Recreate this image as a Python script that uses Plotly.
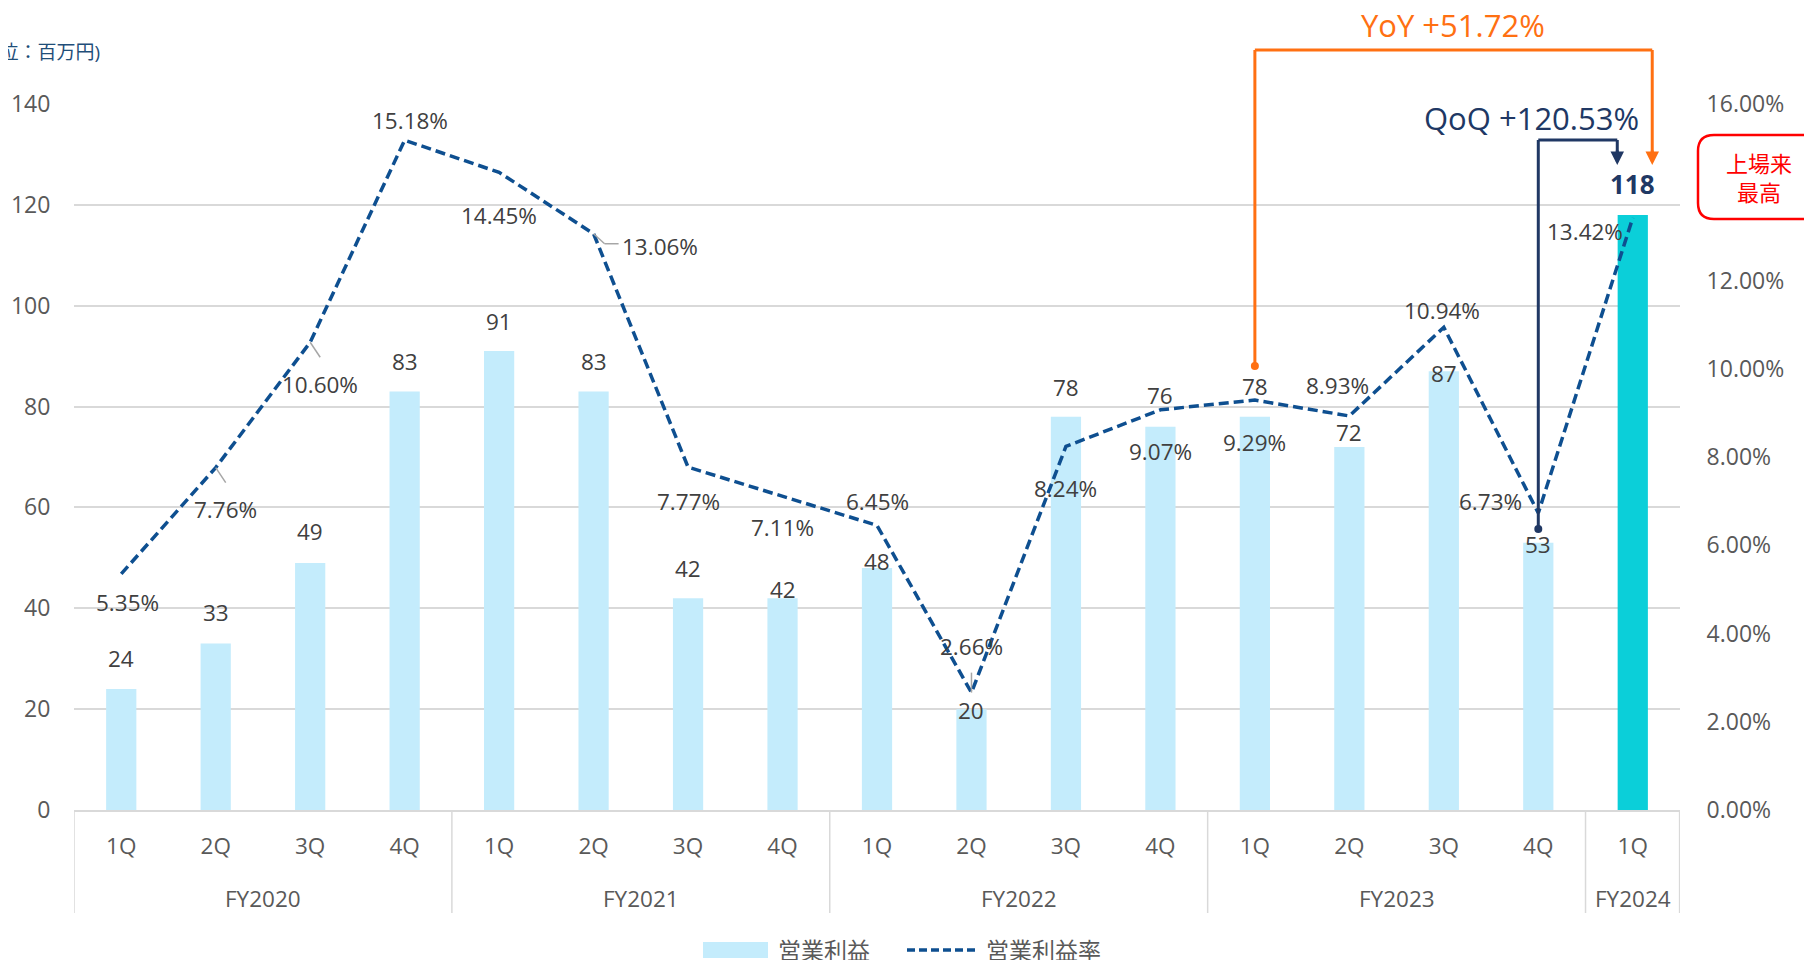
import plotly.graph_objects as go

# ---------------- data ----------------
fiscal_years = ["FY2020"] * 4 + ["FY2021"] * 4 + ["FY2022"] * 4 + ["FY2023"] * 4 + ["FY2024"]
quarters = ["1Q", "2Q", "3Q", "4Q"] * 4 + ["1Q"]
operating_profit = [24, 33, 49, 83, 91, 83, 42, 42, 48, 20, 78, 76, 78, 72, 87, 53, 118]
operating_margin = [5.35, 7.76, 10.60, 15.18, 14.45, 13.06, 7.77, 7.11, 6.45, 2.66,
                    8.24, 9.07, 9.29, 8.93, 10.94, 6.73, 13.42]
left_ticks = [0, 20, 40, 60, 80, 100, 120, 140]
right_ticks = [0, 2, 4, 6, 8, 10, 12, 14, 16]
series_names = ["営業利益", "営業利益率"]
yoy_text = "YoY +51.72%"
qoq_text = "QoQ +120.53%"
unit_text = "(単位：百万円)"
record_text = "上場来<br>最高"

# ---------------- styles ----------------
FONT = "Open Sans, Noto Sans CJK JP, sans-serif"
BAR_LIGHT = "#C4ECFC"
BAR_HIGHLIGHT = "#0BCFD9"
LINE_COLOR = "#0E4F90"
TEXT = "#404040"
AXIS_TEXT = "#595959"
GRID = "#D9D9D9"
NAVY = "#203864"
ORANGE = "#FF7012"

# page geometry of the plot area (page has 8px body margin)
PX0, PX1, PY0, PY1 = 74, 1680, 104, 810
def px(x):
    return (x - PX0) / (PX1 - PX0)
def py(y):
    return (PY1 - y) / (PY1 - PY0)

# label pixel shifts (style only)
bar_label_yshift = [30, 31, 31, 30, 30, 30, 30, 9, 6, -1, 29, 31, 30, 14, -2, -2, 31]
rate_label_shift = [(6, -29), (10, -42), (10, -42), (5, 20), (0, -43), (66, -13), (0, -34),
                    (0, -31), (0, 24), (0, 46), (0, -42), (0, -42), (0, -42), (-12, 30),
                    (-2, 17), (-48, 12), (-48, -14)]

n = len(operating_profit)
categories = [f"{fy} {q}" for fy, q in zip(fiscal_years, quarters)]
bar_colors = [BAR_LIGHT] * (n - 1) + [BAR_HIGHLIGHT]

fig = go.Figure()
fig.add_trace(go.Bar(
    x=categories, y=operating_profit, name=series_names[0],
    marker=dict(color=bar_colors, line=dict(width=0)), width=0.32,
))
fig.add_trace(go.Scatter(
    x=categories, y=operating_margin, name=series_names[1], yaxis="y2",
    mode="lines", line=dict(color=LINE_COLOR, width=3.5, dash="10px,5px"),
))

annotations = []
shapes = []
for i, v in enumerate(operating_profit):
    last = i == n - 1
    annotations.append(dict(
        x=i, y=v, xref="x", yref="y", text=f"<b>{v}</b>" if last else str(v), showarrow=False,
        yshift=bar_label_yshift[i], yanchor="middle", xanchor="center",
        font=dict(family=FONT, size=26 if last else 22.5, color=NAVY if last else TEXT),
    ))
for i, r in enumerate(operating_margin):
    dx, dy = rate_label_shift[i]
    annotations.append(dict(
        x=i, y=r, xref="x", yref="y2", text=f"{r:.2f}%", showarrow=False,
        xshift=dx, yshift=dy, yanchor="middle", xanchor="center",
        font=dict(family=FONT, size=22.5, color=TEXT),
    ))

# leader lines for some margin labels
leaders = {1: [(0, 0, 10, -15)], 2: [(0, 0, 10, -15)], 5: [(0, 0, 11, -10), (11, -10, 25, -10)],
           9: [(0, 0, 0, 20)]}
for i, segs in leaders.items():
    for (a, b, c, d) in segs:
        shapes.append(dict(type="line", xref="x", yref="y2", xsizemode="pixel", ysizemode="pixel",
                           xanchor=i, yanchor=operating_margin[i], x0=a, y0=b, x1=c, y1=d,
                           line=dict(color="#A6A6A6", width=1.5)))

# fiscal-year group labels and dividers under the axis
groups = []
for i, fy in enumerate(fiscal_years):
    if not groups or groups[-1][0] != fy:
        groups.append([fy, i, i])
    else:
        groups[-1][2] = i
for fy, a, b in groups:
    annotations.append(dict(x=(a + b) / 2, y=py(898), xref="x", yref="paper", text=fy, showarrow=False,
                            xanchor="center", yanchor="middle", font=dict(family=FONT, size=22.5, color=AXIS_TEXT)))
    shapes.append(dict(type="line", xref="x", yref="paper", x0=a - 0.5, x1=a - 0.5, y0=0, y1=py(913),
                       line=dict(color=GRID, width=1.5)))
shapes.append(dict(type="line", xref="x", yref="paper", x0=n - 0.5 - 0.004, x1=n - 0.5 - 0.004, y0=0, y1=py(913),
                   line=dict(color=GRID, width=1.5)))

# YoY / QoQ connectors
def connector(x_start, y_start, y_top, x_end, y_tip, color):
    segs = [(x_start, y_start, x_start, y_top), (x_start, y_top, x_end, y_top), (x_end, y_top, x_end, y_tip + 0.015)]
    for (a, b, c, d) in segs:
        shapes.append(dict(type="line", xref="x", yref="paper", x0=a, y0=b, x1=c, y1=d,
                           line=dict(color=color, width=3)))
    shapes.append(dict(type="circle", xref="x", yref="paper", xsizemode="pixel", ysizemode="pixel",
                       xanchor=x_start, yanchor=y_start, x0=-4, x1=4, y0=-4, y1=4,
                       fillcolor=color, line=dict(color=color, width=0)))
    annotations.append(dict(x=x_end, y=y_tip, xref="x", yref="paper", ax=0, ay=-16, axref="pixel", ayref="pixel",
                            text="", showarrow=True, arrowhead=2, arrowsize=0.9, arrowwidth=3,
                            arrowcolor=color))

connector(12, py(366), py(50), 16.206, py(165), ORANGE)
connector(15, py(529), py(140), 15.836, py(165), NAVY)

annotations.append(dict(x=14.1, y=py(25), xref="x", yref="paper", text=yoy_text, showarrow=False,
                        xanchor="center", yanchor="middle", font=dict(family=FONT, size=31, color=ORANGE)))
annotations.append(dict(x=16.09, y=py(118), xref="x", yref="paper", text=qoq_text, showarrow=False,
                        xanchor="right", yanchor="middle", font=dict(family=FONT, size=31, color=NAVY)))
annotations.append(dict(x=px(102), y=py(52), xref="paper", yref="paper", text=unit_text, showarrow=False,
                        xanchor="right", yanchor="middle", font=dict(family=FONT, size=19, color="#1F4E79")))

# record box
x0, x1 = px(1698), px(1830)
y0, y1 = py(219), py(135)
rx, ry = 16 / (PX1 - PX0), 16 / (PY1 - PY0)
path = (f"M{x0+rx},{y1} L{x1-rx},{y1} Q{x1},{y1} {x1},{y1-ry} L{x1},{y0+ry} Q{x1},{y0} {x1-rx},{y0} "
        f"L{x0+rx},{y0} Q{x0},{y0} {x0},{y0+ry} L{x0},{y1-ry} Q{x0},{y1} {x0+rx},{y1} Z")
shapes.append(dict(type="path", xref="paper", yref="paper", path=path,
                   line=dict(color="#FF0000", width=2.5), fillcolor="white"))
annotations.append(dict(x=px(1759), y=py(178), xref="paper", yref="paper",
                        text=record_text, showarrow=False, align="center",
                        font=dict(family=FONT, size=22, color="#FF0000"), xanchor="center", yanchor="middle"))

# custom legend
shapes.append(dict(type="rect", xref="paper", yref="paper", x0=px(703), x1=px(768), y0=py(958), y1=py(942),
                   fillcolor=BAR_LIGHT, line=dict(width=0)))
shapes.append(dict(type="line", xref="paper", yref="paper", x0=px(907), x1=px(977), y0=py(950), y1=py(950),
                   line=dict(color=LINE_COLOR, width=3.5, dash="8px,4px")))
annotations.append(dict(x=px(776), y=py(950), xref="paper", yref="paper", text=series_names[0], showarrow=False,
                        xanchor="left", yanchor="middle", font=dict(family=FONT, size=23, color=AXIS_TEXT)))
annotations.append(dict(x=px(984), y=py(950), xref="paper", yref="paper", text=series_names[1], showarrow=False,
                        xanchor="left", yanchor="middle", font=dict(family=FONT, size=23, color=AXIS_TEXT)))

fig.update_layout(
    width=1804, height=952,
    margin=dict(l=66, r=132, t=96, b=150, autoexpand=False),
    paper_bgcolor="white", plot_bgcolor="white",
    font=dict(family=FONT, color=AXIS_TEXT, size=22),
    bargap=0.68,
    showlegend=False,
    xaxis=dict(type="category", tickmode="array", tickvals=categories, ticktext=quarters,
               showline=True, linecolor=GRID, linewidth=2, ticks="outside", ticklen=15,
               tickcolor="rgba(0,0,0,0)", tickfont=dict(size=22.5, color=AXIS_TEXT),
               showgrid=False, range=[-0.5, n - 0.5]),
    yaxis=dict(range=[0, 140], tickvals=left_ticks, showgrid=True, gridcolor=GRID, gridwidth=1.5,
               zeroline=False, ticks="outside", ticklen=18, tickcolor="rgba(0,0,0,0)",
               tickfont=dict(size=23, color=AXIS_TEXT)),
    yaxis2=dict(range=[0, 16], tickvals=right_ticks, ticktext=[f"{t:.2f}%" for t in right_ticks],
                overlaying="y", side="right", showgrid=False, zeroline=False,
                ticks="outside", ticklen=21, tickcolor="rgba(0,0,0,0)",
                tickfont=dict(size=23, color=AXIS_TEXT)),
    annotations=annotations,
    shapes=shapes,
)

fig.write_html("out.html")
